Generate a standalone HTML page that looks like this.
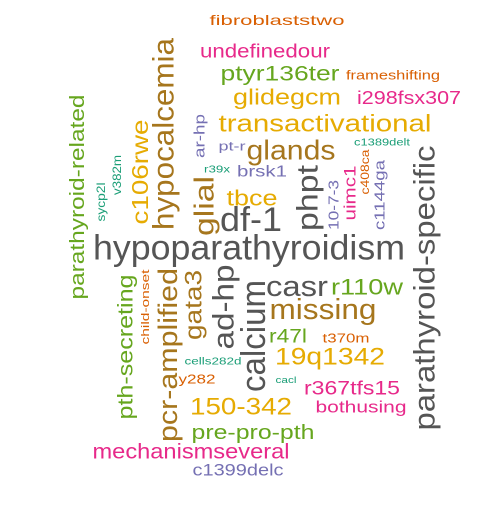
<!DOCTYPE html>
<html><head><meta charset="utf-8"><style>
html,body{margin:0;padding:0;background:#fff;}
svg text{font-family:"Liberation Sans",Arial,sans-serif;}
</style></head><body>
<svg id="cloud" width="500" height="500" viewBox="0 0 500 500"></svg>
<script>
const words=["fibroblaststwo","undefinedour","ptyr136ter","frameshifting","glidegcm","i298fsx307","transactivational","glands","c1389delt","pt-r","r39x","brsk1","tbce","df-1","hypoparathyroidism","casr","r110w","missing","r47l","t370m","19q1342","cells282d","y282","cacl","r367tfs15","150-342","bothusing","pre-pro-pth","mechanismseveral","c1399delc","parathyroid-related","sycp2l","v382m","c106rwe","hypocalcemia","ar-hp","glial","phpt","10-7-3","uimc1","c408ca","c1144ga","parathyroid-specific","pth-secreting","child-onset","pcr-amplified","gata3","ad-hp","calcium"];
const sizes=[14,19,21,13,22,18,24,28,10,13,10,16,22,34,35,29,22,29,19,13,24,10,13,9,19,24,17,20,21,17,20,12,12,23,30,15,28,30,15,17,12,15,30,21,11,27,24,30,34];
const colors=["#D95F02","#E7298A","#66A61E","#D95F02","#E6AB02","#E7298A","#E6AB02","#A6761D","#1B9E77","#7570B3","#1B9E77","#7570B3","#E6AB02","#555555","#555555","#555555","#66A61E","#A6761D","#66A61E","#D95F02","#E6AB02","#1B9E77","#D95F02","#1B9E77","#E7298A","#E6AB02","#E7298A","#66A61E","#E7298A","#7570B3","#66A61E","#1B9E77","#1B9E77","#E6AB02","#A6761D","#7570B3","#A6761D","#555555","#7570B3","#E7298A","#D95F02","#7570B3","#555555","#66A61E","#D95F02","#A6761D","#A6761D","#555555","#555555"];
const rotated=[0,0,0,0,0,0,0,0,0,0,0,0,0,0,0,0,0,0,0,0,0,0,0,0,0,0,0,0,0,0,1,1,1,1,1,1,1,1,1,1,1,1,1,1,1,1,1,1,1];
const cx=[277,265,280,393,287,409,325,291,382,232,217,262,252,251,249,297,367,323,288,346,330,213,197,286,352,241,361,253,191,238,78,101,117,140,164,200,204,308,334,350,365,380,425,126,146,168,194,224,254];
const cy=[20,52,74,75,97,98,124,150,143,146,170,172,198,220,248,287,287,310,337,338,357,362,379,380,389,407,407,433,452,470,197,202,175,172,134,136,206,198,205,193,172,195,288,347,307,355,305,307,336];
const lens=[135,130,119,94,108,104,213,89,56,27,26,50,51,62,312,62,72,107,38,47,110,57,37,21,96,102,91,123,197,91,205,39,40,105,192,44,60,66,50,55,45,70,285,145,75,174,70,85,112];
const svg=document.getElementById('cloud');
const NS="http://www.w3.org/2000/svg";
for(let i=0;i<words.length;i++){
  const t=document.createElementNS(NS,'text');
  
  
  t.setAttribute('x',cx[i]);t.setAttribute('y',cy[i]);
  t.setAttribute('text-anchor','middle');
  t.setAttribute('dominant-baseline','central');
  t.setAttribute('font-size',sizes[i]);
  t.setAttribute('fill',colors[i]);
  t.setAttribute('textLength',lens[i]);
  t.setAttribute('lengthAdjust','spacingAndGlyphs');
  if(rotated[i]) t.setAttribute('transform','rotate(-90 '+cx[i]+' '+cy[i]+')');
  t.textContent=words[i];
  svg.appendChild(t);
}
</script>
</body></html>
